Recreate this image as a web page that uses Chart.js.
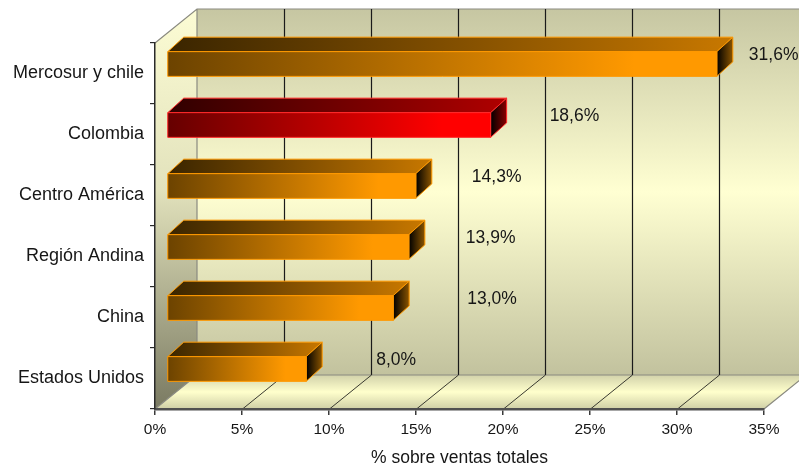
<!DOCTYPE html>
<html lang="es">
<head>
<meta charset="UTF-8">
<title>% sobre ventas totales</title>
<script src="https://cdn.jsdelivr.net/npm/chart.js"></script>
<style>
  html, body { margin: 0; padding: 0; background: #fff; }
  #wrap { width: 799px; height: 470px; }
</style>
</head>
<body>
<div id="wrap"><canvas id="chart" width="799" height="470"></canvas></div>
<script>
// regiones y su peso sobre las ventas totales (%)
const categories = ['Mercosur y chile', 'Colombia', 'Centro América', 'Región Andina', 'China', 'Estados Unidos'];
const shares = [31.6, 18.6, 14.3, 13.9, 13.0, 8.0];
const tickValues = [0, 5, 10, 15, 20, 25, 30, 35];
const highlight = 'Colombia';

// separación horizontal de cada etiqueta respecto al extremo de su barra (px)
const labelGap = [16, 43, 40, 41, 58, 54];

const FONT = '"Liberation Sans", Arial, sans-serif';
const TEXT = '#161616';

// profundidad del cubo (de la cara frontal a la pared del fondo)
const DX = 42, DY = -34;
// posición de las barras dentro de la profundidad
const BAR_FX = 12, BAR_FY = -9.5, BAR_DX = 16, BAR_DY = -14.5;

const palettes = {
  orange: { front: ['#6c4300', '#ff9900'], top: ['#3a2500', '#c87800'], side: ['#000000', '#8a5400'], edge: '#ff9900' },
  red:    { front: ['#660000', '#ff0000'], top: ['#300000', '#b00000'], side: ['#000000', '#8a0000'], edge: '#ff2a2a' }
};

function poly(ctx, pts) {
  ctx.beginPath();
  ctx.moveTo(pts[0][0], pts[0][1]);
  for (let i = 1; i < pts.length; i++) ctx.lineTo(pts[i][0], pts[i][1]);
  ctx.closePath();
}

const walls = {
  id: 'walls',
  beforeDraw(chart) {
    const { ctx, chartArea: a, scales: { x } } = chart;
    const L = a.left, R = a.right, T = a.top, B = a.bottom;
    ctx.save();

    // pared del fondo
    let g = ctx.createLinearGradient(0, T + DY, 0, B + DY);
    g.addColorStop(0, '#c6c6a2');
    g.addColorStop(0.5, '#ffffd2');
    g.addColorStop(1, '#c2c29e');
    ctx.fillStyle = g;
    ctx.fillRect(L + DX, T + DY, R - L + 10, B - T);

    // pared lateral izquierda
    g = ctx.createLinearGradient(0, T + DY, 0, B);
    g.addColorStop(0, '#fcfcd4');
    g.addColorStop(0.45, '#e2e2bc');
    g.addColorStop(1, '#7a7a62');
    ctx.fillStyle = g;
    poly(ctx, [[L, T], [L + DX, T + DY], [L + DX, B + DY], [L, B]]);
    ctx.fill();

    // suelo
    g = ctx.createLinearGradient(0, B + DY, 0, B);
    g.addColorStop(0, '#d2d2aa');
    g.addColorStop(0.5, '#ffffcc');
    g.addColorStop(1, '#cfcfa6');
    ctx.fillStyle = g;
    poly(ctx, [[L, B], [R, B], [R + DX, B + DY], [L + DX, B + DY]]);
    ctx.fill();

    // aristas grises
    ctx.strokeStyle = '#8a8a80';
    ctx.lineWidth = 1.2;
    ctx.beginPath();
    ctx.moveTo(L, T); ctx.lineTo(L + DX, T + DY); ctx.lineTo(chart.width + 20, T + DY);
    ctx.moveTo(L + DX, T + DY); ctx.lineTo(L + DX, B + DY); ctx.lineTo(R + DX, B + DY);
    ctx.moveTo(R, B); ctx.lineTo(R + DX, B + DY);
    ctx.moveTo(L, B); ctx.lineTo(L + DX, B + DY);
    ctx.stroke();

    // líneas de división: pared del fondo y suelo
    tickValues.forEach(v => {
      if (v <= 0 || v >= tickValues[tickValues.length - 1]) return;
      const px = Math.round(x.getPixelForValue(v)) + 0.5;
      ctx.strokeStyle = '#1a1a1a';
      ctx.lineWidth = 1.2;
      ctx.beginPath();
      ctx.moveTo(px + DX, T + DY);
      ctx.lineTo(px + DX, B + DY);
      ctx.stroke();
      ctx.strokeStyle = '#3a3a30';
      ctx.lineWidth = 1;
      ctx.beginPath();
      ctx.moveTo(px, B);
      ctx.lineTo(px + DX, B + DY);
      ctx.stroke();
    });
    ctx.restore();
  }
};

const bars3d = {
  id: 'bars3d',
  afterDatasetsDraw(chart) {
    const { ctx } = chart;
    const meta = chart.getDatasetMeta(0);
    ctx.save();
    meta.data.forEach((bar, i) => {
      const p = categories[i] === highlight ? palettes.red : palettes.orange;
      const x0 = bar.base + BAR_FX, x1 = bar.x + BAR_FX;
      const y0 = bar.y - bar.height / 2 + BAR_FY, y1 = y0 + bar.height;
      ctx.lineWidth = 1;
      ctx.strokeStyle = p.edge;
      ctx.lineJoin = 'round';

      // cara superior
      let g = ctx.createLinearGradient(x0, 0, x1 + BAR_DX, 0);
      g.addColorStop(0, p.top[0]);
      g.addColorStop(1, p.top[1]);
      ctx.fillStyle = g;
      poly(ctx, [[x0, y0], [x0 + BAR_DX, y0 + BAR_DY], [x1 + BAR_DX, y0 + BAR_DY], [x1, y0]]);
      ctx.fill();
      ctx.stroke();

      // cara lateral
      g = ctx.createLinearGradient(x1, 0, x1 + BAR_DX, 0);
      g.addColorStop(0, p.side[0]);
      g.addColorStop(1, p.side[1]);
      ctx.fillStyle = g;
      poly(ctx, [[x1, y0], [x1 + BAR_DX, y0 + BAR_DY], [x1 + BAR_DX, y1 + BAR_DY], [x1, y1]]);
      ctx.fill();
      ctx.stroke();

      // cara frontal
      g = ctx.createLinearGradient(x0, 0, x1, 0);
      g.addColorStop(0, p.front[0]);
      g.addColorStop(0.85, p.front[1]);
      g.addColorStop(1, p.front[1]);
      ctx.fillStyle = g;
      poly(ctx, [[x0, y0], [x1, y0], [x1, y1], [x0, y1]]);
      ctx.fill();
      ctx.stroke();

      // etiqueta de valor
      ctx.fillStyle = TEXT;
      ctx.font = '17.5px ' + FONT;
      ctx.textAlign = 'left';
      ctx.textBaseline = 'middle';
      const txt = shares[i].toFixed(1).replace('.', ',') + '%';
      ctx.fillText(txt, x1 + BAR_DX + labelGap[i], bar.y - 18);
    });
    ctx.restore();
  }
};

new Chart(document.getElementById('chart'), {
  type: 'bar',
  data: {
    labels: categories,
    datasets: [{
      data: shares,
      backgroundColor: 'rgba(0,0,0,0)',
      borderWidth: 0,
      categoryPercentage: 1,
      barPercentage: 0.405
    }]
  },
  options: {
    indexAxis: 'y',
    responsive: false,
    animation: false,
    layout: { padding: { left: 0, top: 43, right: 35, bottom: 0 } },
    plugins: { legend: { display: false }, tooltip: { enabled: false } },
    scales: {
      x: {
        min: 0,
        max: 35,
        afterBuildTicks: s => { s.ticks = tickValues.map(v => ({ value: v })); },
        afterFit: s => { s.height = 61; },
        grid: { drawOnChartArea: false, drawTicks: true, tickLength: 6, color: '#3a3a3a', lineWidth: 1.5 },
        border: { color: '#505050', width: 2.5 },
        ticks: { color: TEXT, font: { family: FONT, size: 15.5 }, padding: 5, callback: v => v + '%' },
        title: { display: true, text: '% sobre ventas totales', color: TEXT, font: { family: FONT, size: 17.5 }, padding: { top: 0, bottom: 1 } }
      },
      y: {
        afterFit: s => { s.width = 155; },
        grid: { drawOnChartArea: false, drawTicks: true, tickLength: 5, color: '#2a2a2a', lineWidth: 1.2 },
        border: { color: '#2a2a2a', width: 1.5 },
        ticks: { color: TEXT, font: { family: FONT, size: 18 }, padding: 6 }
      }
    }
  },
  plugins: [walls, bars3d]
});
</script>
</body>
</html>
